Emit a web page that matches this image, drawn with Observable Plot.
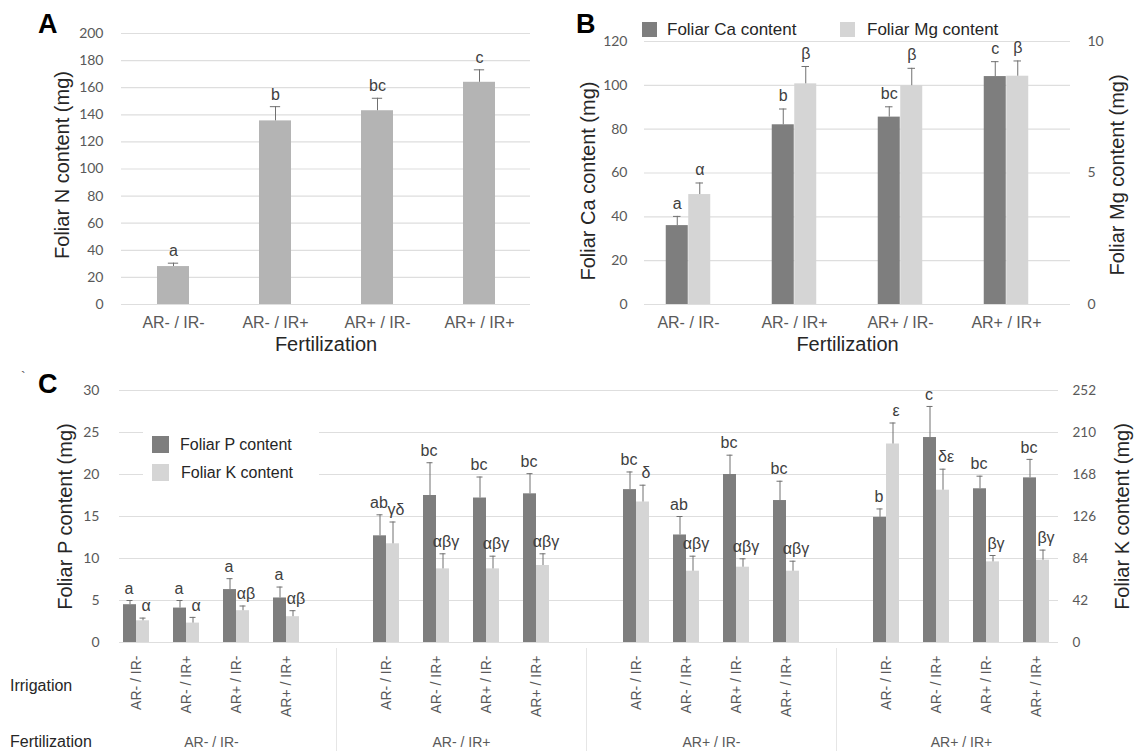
<!DOCTYPE html>
<html>
<head>
<meta charset="utf-8">
<script src="https://cdn.jsdelivr.net/npm/d3@7"></script>
<script src="https://cdn.jsdelivr.net/npm/@observablehq/plot@0.6"></script>
<style>
  html, body { margin: 0; padding: 0; background: #fff; }
  #root { position: relative; width: 1135px; height: 751px; overflow: hidden; font-family: "Liberation Sans", Arial, sans-serif; color: #262626; }
  .abs { position: absolute; }
  .panel { font-weight: bold; font-size: 27px; color: #000; line-height: 1; }
  .leg { position: absolute; display: flex; align-items: center; white-space: nowrap; color: #262626; }
  .sw { display: inline-block; }
  .rowlab { position: absolute; font-size: 16px; color: #262626; line-height: 1; }
</style>
</head>
<body>
<div id="root"></div>
<script>
// ---------------- DATA ----------------
const fertLevels = ["AR- / IR-", "AR- / IR+", "AR+ / IR-", "AR+ / IR+"];
const irrLevels  = ["AR- / IR-", "AR- / IR+", "AR+ / IR-", "AR+ / IR+"];

// Panel A: foliar N content (mg)
const nContent = [28, 135.5, 143, 164];
const nError   = [2.5, 10.5, 9.2, 9.2];
const nLetters = ["a", "b", "bc", "c"];

// Panel B: foliar Ca (left axis) and Mg (right axis) content (mg)
const caContent = [36, 82, 85.5, 104];
const caError   = [4.2, 7.2, 4.7, 6.8];
const caLetters = ["a", "b", "bc", "c"];
const mgContent = [4.18, 8.39, 8.32, 8.68];
const mgError   = [0.44, 0.66, 0.66, 0.58];
const mgLetters = ["α", "β", "β", "β"];

// Panel C: foliar P (left axis) and K (right axis) content (mg); 4 fertilization x 4 irrigation
const pContent = [4.5, 4.1, 6.3, 5.3,   12.7, 17.5, 17.2, 17.7,   18.2, 12.8, 20.0, 16.9,   14.9, 24.4, 18.3, 19.6];
const pError   = [0.5, 0.9, 1.3, 1.3,   2.5, 3.9, 2.5, 2.4,       2.1, 2.2, 2.3, 2.3,       1.0, 3.7, 1.5, 2.2];
const pLetters = ["a", "a", "a", "a",   "ab", "bc", "bc", "bc",   "bc", "ab", "bc", "bc",   "b", "c", "bc", "bc"];
const kContent = [21.7, 19.4, 31.8, 25.8,   98.7, 73.6, 73.6, 77.0,   140.5, 71.3, 75.3, 71.3,   198.5, 152.3, 80.6, 82.3];
const kError   = [2.7, 5.7, 4.7, 6.0,       21.8, 15.1, 12.7, 11.7,   16.8, 15.0, 8.4, 10.0,     21.0, 21.0, 6.4, 10.1];
const kLetters = ["α", "α", "αβ", "αβ",   "γδ", "αβγ", "αβγ", "αβγ",   "δ", "αβγ", "αβγ", "αβγ",   "ε", "δε", "βγ", "βγ"];

// axis tick values
const nTicks  = [0, 20, 40, 60, 80, 100, 120, 140, 160, 180, 200];
const caTicks = [0, 20, 40, 60, 80, 100, 120];
const mgTicks = [0, 5, 10];
const pTicks  = [0, 5, 10, 15, 20, 25, 30];
const kTicks  = [0, 42, 84, 126, 168, 210, 252];

// ---------------- STYLE ----------------
const FONT = '"Liberation Sans", Arial, sans-serif';
const NUMFONT = 'Lato, "Liberation Sans", Arial, sans-serif';
const DARK = "#7e7e7e", LIGHT = "#d5d5d5", MID = "#b4b4b4";
const GRID = "#dedede", ERR = "#707070", TICKTXT = "#595959", LETTER = "#404040", TITLE = "#262626";

const root = document.getElementById("root");
function place(el, left, top) {
  const d = document.createElement("div");
  d.className = "abs";
  d.style.left = left + "px";
  d.style.top = top + "px";
  d.appendChild(el);
  root.appendChild(d);
  return d;
}
const baseStyle = {fontFamily: FONT, fontSize: "16px", background: "transparent", overflow: "visible", color: TITLE};

// ---------------- PANEL A ----------------
{
  const W = 560, H = 365, ml = 121, mr = 30, mt = 33, mb = 61;
  const pin = 0.69;
  const bw = (W - ml - mr) / fertLevels.length * (1 - pin);
  const cap = 10, capInset = (bw - cap) / 2;
  const data = fertLevels.map((f, i) => ({f, v: nContent[i], e: nError[i], l: nLetters[i]}));
  const plot = Plot.plot({
    width: W, height: H, marginLeft: ml, marginRight: mr, marginTop: mt, marginBottom: mb,
    style: baseStyle,
    x: {domain: fertLevels, paddingInner: pin, paddingOuter: pin / 2},
    y: {domain: [0, 200]},
    marks: [
      Plot.gridY(nTicks, {stroke: GRID, strokeOpacity: 1, strokeWidth: 1.2}),
      Plot.axisY({ticks: nTicks, tickSize: 0, tickPadding: 18, label: null, fontSize: 14, fontFamily: NUMFONT, fill: TICKTXT}),
      Plot.axisX({tickSize: 0, tickPadding: 12, label: null, fontSize: 16, fill: TICKTXT}),
      Plot.barY(data, {x: "f", y: "v", fill: MID}),
      Plot.ruleX(data, {x: "f", y1: "v", y2: d => d.v + d.e, stroke: ERR}),
      Plot.tickY(data, {x: "f", y: d => d.v + d.e, stroke: ERR, insetLeft: capInset, insetRight: capInset}),
      Plot.text(data, {x: "f", y: d => d.v + d.e, text: "l", dy: -12, fontSize: 16, fill: LETTER}),
      Plot.text(["Foliar N content (mg)"], {frameAnchor: "left", textAnchor: "middle", rotate: -90, dx: -59, dy: -4, fontSize: 20, fill: TITLE}),
      Plot.text(["Fertilization"], {frameAnchor: "bottom", dy: 46, fontSize: 20, fill: TITLE})
    ]
  });
  place(plot, 0, 0);
}

// ---------------- PANEL B ----------------
{
  const W = 575, H = 365, ml = 74, mr = 75, mt = 41, mb = 61;
  const caMax = 120, mgMax = 10, mgToCa = caMax / mgMax;
  const step = (W - ml - mr) / fertLevels.length;
  const barW = 22.5, half = step / 2, cap = 8;
  const data = fertLevels.map((f, i) => ({
    f, ca: caContent[i], cae: caError[i], cal: caLetters[i],
    mg: mgContent[i] * mgToCa, mge: mgError[i] * mgToCa, mgl: mgLetters[i]
  }));
  const plot = Plot.plot({
    width: W, height: H, marginLeft: ml, marginRight: mr, marginTop: mt, marginBottom: mb,
    style: baseStyle,
    x: {domain: fertLevels, padding: 0},
    y: {domain: [0, caMax]},
    marks: [
      Plot.gridY(caTicks, {stroke: GRID, strokeOpacity: 1, strokeWidth: 1.2, insetLeft: 10, insetRight: -10}),
      Plot.axisY({ticks: caTicks, tickSize: 0, tickPadding: 7, label: null, fontSize: 14, fontFamily: NUMFONT, fill: TICKTXT}),
      Plot.axisY({anchor: "right", ticks: mgTicks.map(t => t * mgToCa), tickFormat: d => d / mgToCa, tickSize: 0, tickPadding: 27, label: null, fontSize: 14, fontFamily: NUMFONT, fill: TICKTXT}),
      Plot.axisX({tickSize: 0, tickPadding: 12, label: null, fontSize: 16, fill: TICKTXT}),
      Plot.barY(data, {x: "f", y: "ca", fill: DARK, insetLeft: half - barW, insetRight: half}),
      Plot.barY(data, {x: "f", y: "mg", fill: LIGHT, insetLeft: half, insetRight: half - barW}),
      Plot.ruleX(data, {x: "f", y1: "ca", y2: d => d.ca + d.cae, stroke: ERR, dx: -barW / 2}),
      Plot.ruleX(data, {x: "f", y1: "mg", y2: d => d.mg + d.mge, stroke: ERR, dx: barW / 2}),
      Plot.tickY(data, {x: "f", y: d => d.ca + d.cae, stroke: ERR, insetLeft: half - barW / 2 - cap / 2, insetRight: half + barW / 2 - cap / 2}),
      Plot.tickY(data, {x: "f", y: d => d.mg + d.mge, stroke: ERR, insetLeft: half + barW / 2 - cap / 2, insetRight: half - barW / 2 - cap / 2}),
      Plot.text(data, {x: "f", y: d => d.ca + d.cae, text: "cal", dx: -barW / 2, dy: -13, fontSize: 16, fill: LETTER}),
      Plot.text(data, {x: "f", y: d => d.mg + d.mge, text: "mgl", dx: barW / 2, dy: -13, fontSize: 16, fill: LETTER}),
      Plot.text(["Foliar Ca content (mg)"], {frameAnchor: "left", textAnchor: "middle", rotate: -90, dx: -46, dy: 8, fontSize: 20, fill: TITLE}),
      Plot.text(["Foliar Mg content (mg)"], {frameAnchor: "right", textAnchor: "middle", rotate: -90, dx: 57, dy: 2, fontSize: 20, fill: TITLE}),
      Plot.text(["Fertilization"], {frameAnchor: "bottom", dy: 46, fontSize: 20, fill: TITLE})
    ]
  });
  place(plot, 560, 0);
}

// ---------------- PANEL C ----------------
{
  const W = 1135, H = 386, ml = 111, mr = 74, mt = 25, mb = 109;
  const pMax = 30, kMax = 252, kPerP = kMax / pMax;
  // slots: 4 irrigation bars per fertilization group, an empty slot between groups
  const slots = [];
  fertLevels.forEach((f, g) => {
    irrLevels.forEach((r, s) => slots.push(`${g}-${s}`));
    if (g < fertLevels.length - 1) slots.push(`gap${g}`);
  });
  const gaps = slots.filter(s => s.startsWith("gap"));
  const step = (W - ml - mr) / slots.length;
  const half = step / 2, barW = 13, cap = 6;
  const pxPerUnit = (H - mt - mb) / pMax;
  const data = [];
  fertLevels.forEach((f, g) => irrLevels.forEach((r, s) => {
    const i = g * irrLevels.length + s;
    data.push({
      slot: `${g}-${s}`, irr: r, fert: f,
      p: pContent[i], pe: pError[i], pl: pLetters[i],
      k: kContent[i] / kPerP, ke: kError[i] / kPerP, kl: kLetters[i]
    });
  }));
  const slotLabel = new Map(data.map(d => [d.slot, d.irr]));
  const plot = Plot.plot({
    width: W, height: H, marginLeft: ml, marginRight: mr, marginTop: mt, marginBottom: mb,
    style: baseStyle,
    x: {domain: slots, padding: 0},
    y: {domain: [0, pMax]},
    marks: [
      Plot.gridY(pTicks, {stroke: GRID, strokeOpacity: 1, strokeWidth: 1.2, insetLeft: 8, insetRight: 3}),
      Plot.axisY({ticks: pTicks, tickSize: 0, tickPadding: 12, label: null, fontSize: 14, fontFamily: NUMFONT, fill: TICKTXT}),
      Plot.axisY({anchor: "right", ticks: kTicks.map(t => t / kPerP), tickFormat: d => Math.round(d * kPerP), tickSize: 0, tickPadding: 11, label: null, fontSize: 13.5, fontFamily: NUMFONT, fill: TICKTXT}),
      Plot.axisX({ticks: data.map(d => d.slot), tickFormat: d => slotLabel.get(d) ?? "", tickRotate: -90, tickSize: 0, tickPadding: 13, label: null, fontSize: 14, fill: TICKTXT}),
      Plot.ruleX(gaps, {x: d => d, y1: -6 / pxPerUnit, y2: -mb / pxPerUnit, stroke: "#e6e6e6", clip: false}),
      Plot.barY(data, {x: "slot", y: "p", fill: DARK, insetLeft: half - barW, insetRight: half}),
      Plot.barY(data, {x: "slot", y: "k", fill: LIGHT, insetLeft: half, insetRight: half - barW}),
      Plot.ruleX(data, {x: "slot", y1: "p", y2: d => d.p + d.pe, stroke: ERR, dx: -barW / 2}),
      Plot.ruleX(data, {x: "slot", y1: "k", y2: d => d.k + d.ke, stroke: ERR, dx: barW / 2}),
      Plot.tickY(data, {x: "slot", y: d => d.p + d.pe, stroke: ERR, insetLeft: half - barW / 2 - cap / 2, insetRight: half + barW / 2 - cap / 2}),
      Plot.tickY(data, {x: "slot", y: d => d.k + d.ke, stroke: ERR, insetLeft: half + barW / 2 - cap / 2, insetRight: half - barW / 2 - cap / 2}),
      Plot.text(data, {x: "slot", y: d => d.p + d.pe, text: "pl", dx: -barW / 2 - 1, dy: -12, fontSize: 16, fill: LETTER}),
      Plot.text(data, {x: "slot", y: d => d.k + d.ke, text: "kl", dx: barW / 2 + 3, dy: -12, fontSize: 16, fill: LETTER}),
      Plot.text(fertLevels, {x: (d, g) => `${g}-1`, dx: half, frameAnchor: "bottom", dy: 104, fontSize: 14, fill: TICKTXT}),
      Plot.text(["Foliar P content (mg)"], {frameAnchor: "left", textAnchor: "middle", rotate: -90, dx: -46, fontSize: 20, fill: TITLE}),
      Plot.text(["Foliar K content (mg)"], {frameAnchor: "right", textAnchor: "middle", rotate: -90, dx: 61, fontSize: 20, fill: TITLE})
    ]
  });
  place(plot, 0, 365);
}

// ---------------- HTML labels & legends ----------------
function addText(txt, left, top, cls, extra) {
  const d = document.createElement("div");
  d.className = cls;
  d.style.position = "absolute";
  d.style.left = left + "px";
  d.style.top = top + "px";
  d.textContent = txt;
  if (extra) Object.assign(d.style, extra);
  root.appendChild(d);
  return d;
}
addText("A", 38, 11, "panel");
addText("B", 576, 11, "panel");
addText("C", 38, 371, "panel");
addText("`", 21, 370, "rowlab", {fontSize: "14px", color: "#555"});
addText("Irrigation", 10, 678, "rowlab");
addText("Fertilization", 10, 734, "rowlab");

function legendItem(label, color, left, top, sw, fs, gap) {
  const d = document.createElement("div");
  d.className = "leg";
  d.style.left = left + "px";
  d.style.top = top + "px";
  d.style.fontSize = fs + "px";
  d.style.height = sw + "px";
  const s = document.createElement("span");
  s.className = "sw";
  s.style.width = sw + "px";
  s.style.height = sw + "px";
  s.style.background = color;
  s.style.marginRight = gap + "px";
  d.appendChild(s);
  d.appendChild(document.createTextNode(label));
  root.appendChild(d);
}
// legend B
legendItem("Foliar Ca content", DARK, 642, 22, 15, 17, 10);
legendItem("Foliar Mg content", LIGHT, 840, 22, 15, 17, 12);
// legend C (white box)
const box = document.createElement("div");
box.style.cssText = "position:absolute;left:143px;top:425px;width:176px;height:68px;background:#fff;";
root.appendChild(box);
legendItem("Foliar P content", DARK, 152, 436, 17, 16, 11);
legendItem("Foliar K content", LIGHT, 152, 464, 17, 16, 12);
</script>
</body>
</html>
